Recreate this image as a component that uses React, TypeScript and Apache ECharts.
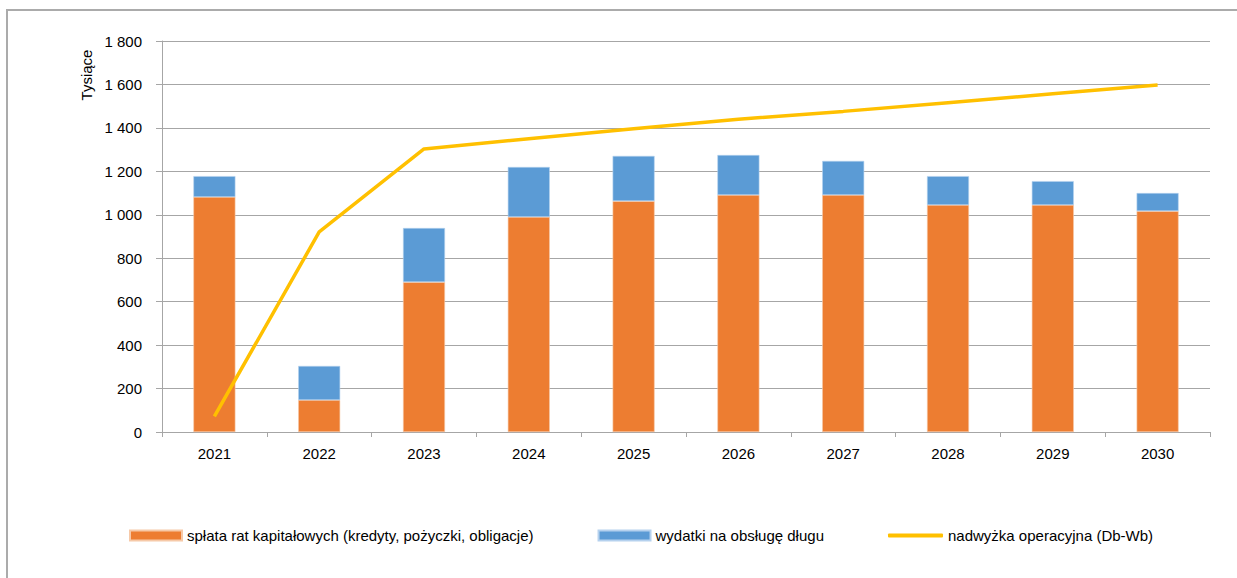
import React, { useEffect, useRef } from "react";
import * as echarts from "echarts";

const categories = ["2021", "2022", "2023", "2024", "2025", "2026", "2027", "2028", "2029", "2030"];
const splataRat = [1082, 147, 690, 990, 1063, 1091, 1091, 1045, 1045, 1017];
const wydatkiObsluga = [96, 157, 249, 230, 208, 184, 157, 133, 110, 83];
const nadwyzka = [72, 921, 1303, 1350, 1396, 1440, 1476, 1516, 1557, 1597];

const seriesNames = [
  "spłata rat kapitałowych (kredyty, pożyczki, obligacje)",
  "wydatki na obsługę długu",
  "nadwyżka operacyjna (Db-Wb)",
];

const FONT = "'Liberation Sans', Arial, sans-serif";
const FS = 15;

export default function App() {
  const ref = useRef<HTMLDivElement>(null);
  useEffect(() => {
    document.body.style.margin = "0";
    const chart = echarts.init(ref.current!, null, { renderer: "svg" });
    chart.setOption({
      animation: false,
      textStyle: { fontFamily: FONT },
      grid: { left: 162, right: 27, top: 41, bottom: 146, containLabel: false },
      graphic: [
        {
          type: "rect",
          shape: { x: 7, y: 10, width: 1250, height: 600 },
          style: { fill: "none", stroke: "#ababab", lineWidth: 2 },
          silent: true,
        },
        {
          type: "text",
          x: 86,
          y: 75,
          rotation: Math.PI / 2,
          style: {
            text: "Tysiące",
            fill: "#000",
            font: `${FS}px ${FONT}`,
            textAlign: "center",
            textVerticalAlign: "middle",
          },
        },
      ],
      legend: [
        {
          left: 129,
          top: 528,
          padding: 0,
          itemGap: 64,
          itemWidth: 52,
          itemHeight: 10,
          textStyle: { fontSize: FS, color: "#000", fontFamily: FONT },
          data: [
            { name: seriesNames[0], icon: "rect" },
            { name: seriesNames[1], icon: "rect" },
          ],
        },
        {
          left: 888,
          top: 528,
          padding: 0,
          itemWidth: 55,
          itemHeight: 4,
          textStyle: { fontSize: FS, color: "#000", fontFamily: FONT },
          data: [{ name: seriesNames[2], icon: "roundRect" }],
        },
      ],
      xAxis: {
        type: "category",
        data: categories,
        axisLine: { lineStyle: { color: "#a6a6a6", width: 1 } },
        axisTick: { show: true, length: 5, lineStyle: { color: "#a6a6a6" } },
        axisLabel: { color: "#000", fontSize: FS, margin: 14, fontFamily: FONT },
      },
      yAxis: {
        type: "value",
        min: 0,
        max: 1800,
        interval: 200,
        axisLine: { show: true, lineStyle: { color: "#a6a6a6", width: 1 } },
        axisTick: { show: true, length: 6, lineStyle: { color: "#a6a6a6" } },
        splitLine: { lineStyle: { color: "#a6a6a6", width: 1 } },
        axisLabel: {
          color: "#000",
          fontSize: FS,
          margin: 20,
          fontFamily: FONT,
          formatter: (v: number) => String(v).replace(/\B(?=(\d{3})+(?!\d))/g, " "),
        },
      },
      series: [
        {
          name: seriesNames[0],
          type: "bar",
          stack: "a",
          data: splataRat,
          barWidth: 42,
          itemStyle: { color: "#ED7D31", borderColor: "#f6c9a8", borderWidth: 0.6 },
        },
        {
          name: seriesNames[1],
          type: "bar",
          stack: "a",
          data: wydatkiObsluga,
          barWidth: 42,
          itemStyle: { color: "#5B9BD5", borderColor: "#b5d1ee", borderWidth: 0.6 },
        },
        {
          name: seriesNames[2],
          type: "line",
          data: nadwyzka,
          symbol: "none",
          lineStyle: { color: "#FFC000", width: 3.5 },
          itemStyle: { color: "#FFC000" },
        },
      ],
    });
    return () => chart.dispose();
  }, []);
  return <div ref={ref} style={{ width: 1237, height: 578 }} />;
}
